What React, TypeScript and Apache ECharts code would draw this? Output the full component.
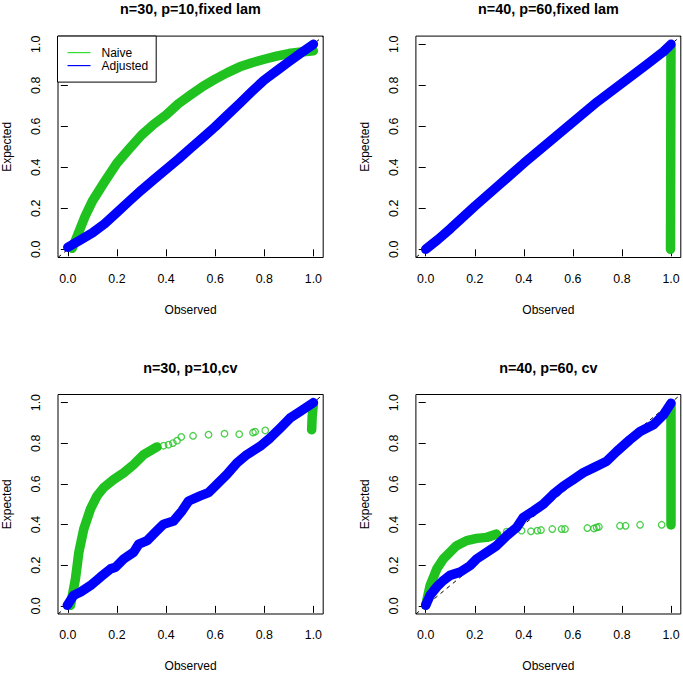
import React, { useEffect, useRef } from "react";
import * as echarts from "echarts";

const tickValues = [0, 0.2, 0.4, 0.6, 0.8, 1.0];
const panelTitles = ["n=30, p=10,fixed lam", "n=40, p=60,fixed lam", "n=30, p=10,cv", "n=40, p=60, cv"];
const axisRange = [-0.04, 1.04];
const diagonal = [[-0.04, -0.04], [1.04, 1.04]];

// Panel 1: n=30, p=10, fixed lambda
const p1NaiveBand = [
  [0.018, 0.005], [0.04, 0.07], [0.07, 0.16], [0.1, 0.235], [0.15, 0.33], [0.2, 0.42], [0.25, 0.49],
  [0.3, 0.557], [0.35, 0.61], [0.4, 0.655], [0.45, 0.71], [0.5, 0.753], [0.55, 0.795], [0.6, 0.83],
  [0.65, 0.862], [0.7, 0.89], [0.75, 0.91], [0.8, 0.927], [0.85, 0.942], [0.9, 0.955], [0.95, 0.962],
  [1.0, 0.968],
];
const p1AdjustedBand = [
  [0.0, 0.01], [0.05, 0.045], [0.1, 0.08], [0.15, 0.125], [0.2, 0.18], [0.25, 0.235], [0.3, 0.289],
  [0.35, 0.34], [0.4, 0.39], [0.45, 0.44], [0.5, 0.493], [0.55, 0.545], [0.6, 0.598], [0.65, 0.655],
  [0.7, 0.712], [0.75, 0.77], [0.8, 0.826], [0.85, 0.87], [0.9, 0.915], [0.95, 0.958], [1.0, 1.0],
];

// Panel 2: n=40, p=60, fixed lambda
const p2NaiveBand = [[0.998, 0.0], [0.999, 0.5], [1.0, 0.99]];
const p2AdjustedBand = [
  [0.0, 0.0], [0.05, 0.048], [0.1, 0.1], [0.2, 0.21], [0.3, 0.315], [0.4, 0.42], [0.5, 0.52],
  [0.6, 0.62], [0.7, 0.72], [0.8, 0.81], [0.9, 0.9], [0.97, 0.965], [1.0, 1.0],
];

// Panel 3: n=30, p=10, cv
const p3NaiveBand = [
  [0.011, 0.003], [0.031, 0.133], [0.045, 0.264], [0.065, 0.378], [0.092, 0.476], [0.119, 0.541],
  [0.146, 0.582], [0.187, 0.622], [0.228, 0.655], [0.268, 0.695], [0.309, 0.744], [0.363, 0.782],
];
const p3NaiveTail = [[0.993, 0.866], [0.995, 0.93], [1.0, 0.995]];
const p3NaivePoints = [
  [0.39, 0.788], [0.41, 0.793], [0.428, 0.801], [0.445, 0.813], [0.462, 0.831], [0.51, 0.837],
  [0.573, 0.842], [0.638, 0.847], [0.698, 0.845], [0.754, 0.853], [0.763, 0.857], [0.804, 0.863],
];
const p3AdjustedBand = [
  [-0.002, 0.003], [0.024, 0.052], [0.052, 0.068], [0.092, 0.1], [0.133, 0.142], [0.174, 0.182],
  [0.194, 0.19], [0.228, 0.231], [0.268, 0.264], [0.289, 0.304], [0.323, 0.321], [0.363, 0.37],
  [0.39, 0.402], [0.431, 0.418], [0.465, 0.467], [0.492, 0.516], [0.539, 0.541], [0.573, 0.557],
  [0.607, 0.598], [0.648, 0.647], [0.689, 0.704], [0.729, 0.744], [0.783, 0.785], [0.824, 0.826],
  [0.865, 0.875], [0.905, 0.924], [0.946, 0.956], [1.0, 1.0],
];

// Panel 4: n=40, p=60, cv
const p4NaiveBand = [
  [0.0, 0.003], [0.018, 0.1], [0.045, 0.182], [0.072, 0.231], [0.099, 0.264], [0.126, 0.296],
  [0.167, 0.321], [0.208, 0.332], [0.249, 0.337], [0.289, 0.353],
];
const p4NaiveTail = [[1.0, 0.398], [1.0, 0.7], [1.0, 0.99]];
const p4NaivePoints = [
  [0.33, 0.365], [0.357, 0.37], [0.391, 0.37], [0.429, 0.367], [0.455, 0.37], [0.47, 0.373],
  [0.516, 0.378], [0.554, 0.378], [0.568, 0.378], [0.659, 0.383], [0.686, 0.381], [0.697, 0.386],
  [0.706, 0.389], [0.792, 0.394], [0.815, 0.394], [0.874, 0.399], [0.962, 0.399],
];
const p4AdjustedBand = [
  [0.0, 0.003], [0.018, 0.052], [0.045, 0.093], [0.072, 0.125], [0.099, 0.15], [0.14, 0.166],
  [0.181, 0.198], [0.208, 0.231], [0.249, 0.264], [0.289, 0.296], [0.33, 0.345], [0.371, 0.386],
  [0.398, 0.435], [0.439, 0.467], [0.479, 0.5], [0.52, 0.549], [0.561, 0.589], [0.602, 0.622],
  [0.642, 0.655], [0.683, 0.679], [0.738, 0.712], [0.779, 0.76], [0.833, 0.818], [0.874, 0.858],
  [0.928, 0.891], [0.969, 0.94], [1.0, 0.997],
];

const GREEN = "#1fc21f";
const BLUE = "#0000ff";
const FONT = "'Liberation Sans', Arial, sans-serif";

const panels = [
  { naiveBands: [p1NaiveBand], naivePoints: [], adjustedBands: [p1AdjustedBand] },
  { naiveBands: [p2NaiveBand], naivePoints: [], adjustedBands: [p2AdjustedBand] },
  { naiveBands: [p3NaiveBand, p3NaiveTail], naivePoints: p3NaivePoints, adjustedBands: [p3AdjustedBand] },
  { naiveBands: [p4NaiveBand, p4NaiveTail], naivePoints: p4NaivePoints, adjustedBands: [p4AdjustedBand] },
];

const gridBoxes = [
  { left: 57.5, top: 36.1, width: 265.7, height: 221.4 },
  { left: 415.9, top: 36.1, width: 264.9, height: 221.4 },
  { left: 57.5, top: 394.5, width: 265.7, height: 221 },
  { left: 415.9, top: 394.5, width: 264.9, height: 221 },
];

export default function App() {
  const ref = useRef<HTMLDivElement>(null);
  useEffect(() => {
    if (!ref.current) return;
    const chart = echarts.init(ref.current, undefined, { renderer: "svg" });
    const fmt = (v: number) => v.toFixed(1);
    const series: any[] = [];
    panels.forEach((p, i) => {
      series.push({
        type: "line", xAxisIndex: i, yAxisIndex: i, data: diagonal, symbol: "none", silent: true,
        lineStyle: { color: "#000", width: 1, type: [4, 4] }, z: 1,
      });
      p.naiveBands.forEach((b) => series.push({
        name: "Naive", type: "line", xAxisIndex: i, yAxisIndex: i, data: b, symbol: "none",
        lineStyle: { color: GREEN, width: 9.5, cap: "round", join: "round" }, itemStyle: { color: GREEN }, z: 2,
      }));
      if (p.naivePoints.length) series.push({
        name: "Naive", type: "scatter", xAxisIndex: i, yAxisIndex: i, data: p.naivePoints, symbol: "circle",
        symbolSize: 6.5, itemStyle: { color: "rgba(0,0,0,0)", borderColor: GREEN, borderWidth: 1.3 }, z: 2,
      });
      p.adjustedBands.forEach((b) => series.push({
        name: "Adjusted", type: "line", xAxisIndex: i, yAxisIndex: i, data: b, symbol: "none",
        lineStyle: { color: BLUE, width: 9.5, cap: "round", join: "round" }, itemStyle: { color: BLUE }, z: 3,
      }));
    });
    chart.setOption({
      animation: false,
      backgroundColor: "#fff",
      title: panelTitles.map((t, i) => ({
        text: t, left: gridBoxes[i].left + gridBoxes[i].width / 2, top: gridBoxes[i].top - 34, textAlign: "center",
        padding: 0, textStyle: { fontFamily: FONT, fontSize: 14.4, fontWeight: "bold", color: "#000" },
      })),
      legend: {
        left: 57.5, top: 36.1, orient: "vertical", itemGap: 0, itemWidth: 23, itemHeight: 1.2, icon: "rect",
        padding: [10, 8, 10, 10], borderColor: "#000", borderWidth: 1, backgroundColor: "#fff", borderRadius: 0,
        textStyle: { fontFamily: FONT, fontSize: 12, color: "#000", lineHeight: 13, padding: [0, 0, 0, 6] },
        data: [
          { name: "Naive", itemStyle: { color: "#33dd33" } },
          { name: "Adjusted", itemStyle: { color: BLUE } },
        ],
        selectedMode: false,
      },
      grid: gridBoxes.map((g) => ({ ...g, show: true, borderColor: "#000", borderWidth: 1, backgroundColor: "transparent", containLabel: false })),
      xAxis: gridBoxes.map((_, i) => ({
        type: "value", gridIndex: i, min: axisRange[0], max: axisRange[1],
        name: "Observed", nameLocation: "middle", nameGap: 46,
        nameTextStyle: { fontFamily: FONT, fontSize: 12, color: "#000" },
        axisLine: { show: false },
        axisTick: { show: true, inside: false, length: 7, customValues: tickValues, lineStyle: { color: "#000" } },
        axisLabel: { customValues: tickValues, formatter: fmt, margin: 15, fontFamily: FONT, fontSize: 12.4, color: "#000" },
        splitLine: { show: false },
      })),
      yAxis: gridBoxes.map((_, i) => ({
        type: "value", gridIndex: i, min: axisRange[0], max: axisRange[1],
        name: "Expected", nameLocation: "middle", nameGap: 45, nameRotate: 90,
        nameTextStyle: { fontFamily: FONT, fontSize: 12, color: "#000" },
        axisLine: { show: false },
        axisTick: { show: true, inside: false, length: 7, customValues: tickValues, lineStyle: { color: "#000" } },
        axisLabel: { customValues: tickValues, formatter: fmt, margin: 16, rotate: 90, fontFamily: FONT, fontSize: 12.4, color: "#000" },
        splitLine: { show: false },
      })),
      series,
    });
    return () => chart.dispose();
  }, []);
  return <div ref={ref} style={{ position: "absolute", left: 0, top: 0, width: 683, height: 673 }} />;
}
